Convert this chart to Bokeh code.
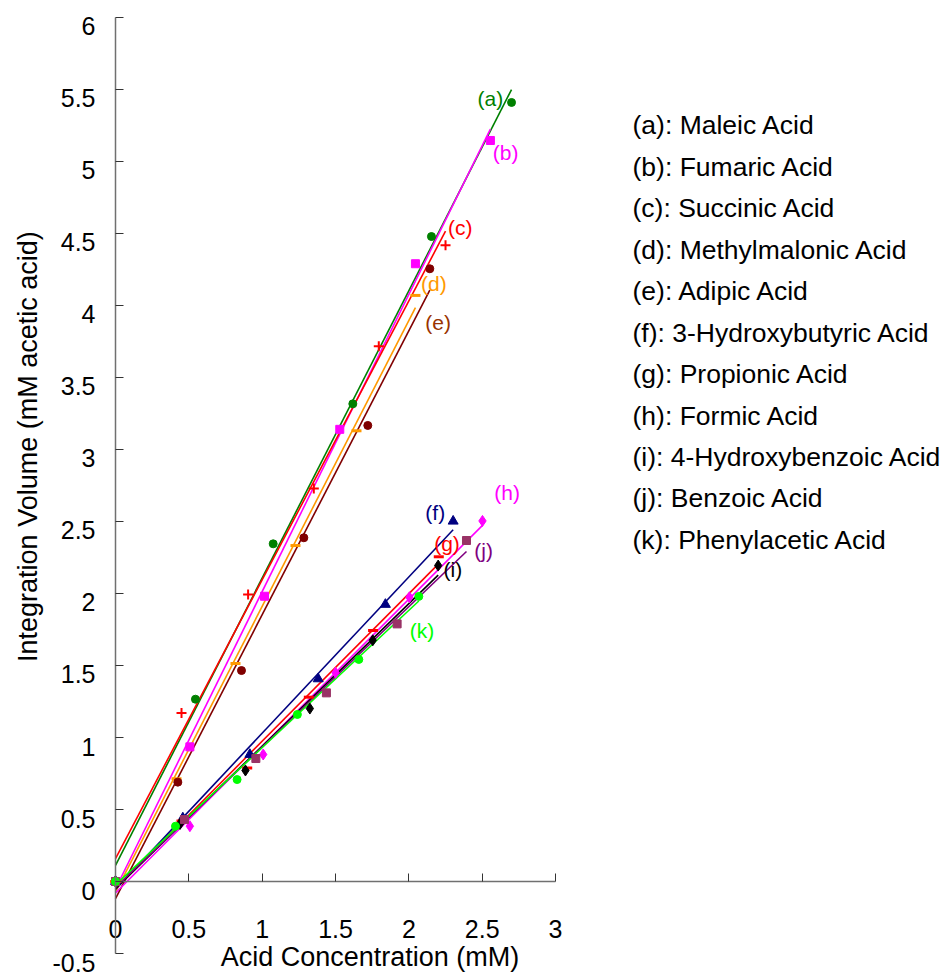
import numpy as np
from bokeh.plotting import figure
from bokeh.models import Label, FixedTicker
from bokeh.embed import file_html
from bokeh.resources import INLINE

# ---------------- data ----------------
tags = ["(a)", "(b)", "(c)", "(d)", "(e)", "(f)", "(g)", "(h)", "(i)", "(j)", "(k)"]
names = ["Maleic Acid", "Fumaric Acid", "Succinic Acid", "Methylmalonic Acid",
         "Adipic Acid", "3-Hydroxybutyric Acid", "Propionic Acid", "Formic Acid",
         "4-Hydroxybenzoic Acid", "Benzoic Acid", "Phenylacetic Acid"]

a_x = [0, 0.545, 1.075, 1.618, 2.154, 2.700]
a_y = [0, 1.266, 2.345, 3.317, 4.479, 5.410]
b_x = [0, 0.507, 1.016, 1.529, 2.045, 2.556]
b_y = [0, 0.935, 1.981, 3.140, 4.290, 5.146]
c_x = [0, 0.450, 0.904, 1.352, 1.795, 2.250]
c_y = [0, 1.171, 1.993, 2.729, 3.717, 4.418]
d_x = [0, 0.416, 0.818, 1.227, 1.643, 2.045]
d_y = [0, 0.713, 1.514, 2.333, 3.130, 4.070]
e_x = [0, 0.425, 0.859, 1.284, 1.720, 2.143]
e_y = [0, 0.690, 1.465, 2.387, 3.167, 4.255]
f_x = [0, 0.459, 0.916, 1.382, 1.840, 2.302]
f_y = [0, 0.441, 0.882, 1.407, 1.924, 2.502]
g_x = [0, 0.450, 0.898, 1.318, 1.756, 2.204]
g_y = [0, 0.420, 0.789, 1.280, 1.743, 2.255]
h_x = [0, 0.507, 1.007, 1.500, 2.004, 2.502]
h_y = [0, 0.384, 0.882, 1.450, 1.974, 2.504]
i_x = [0, 0.440, 0.886, 1.325, 1.754, 2.200]
i_y = [0, 0.400, 0.771, 1.201, 1.675, 2.194]
j_x = [0, 0.470, 0.957, 1.438, 1.920, 2.393]
j_y = [0, 0.430, 0.854, 1.310, 1.789, 2.368]
k_x = [0, 0.409, 0.829, 1.240, 1.659, 2.068]
k_y = [0, 0.384, 0.708, 1.160, 1.542, 1.980]

x_ticks = [0, 0.5, 1, 1.5, 2, 2.5, 3]
y_ticks = [-0.5, 0, 0.5, 1, 1.5, 2, 2.5, 3, 3.5, 4, 4.5, 5, 5.5, 6]
y_tick_labels = ["-0.5", "0", "0.5", "1", "1.5", "2", "2.5", "3", "3.5", "4",
                 "4.5", "5", "5.5", "6"]
x_title = "Acid Concentration (mM)"
y_title = "Integration Volume (mM acetic acid)"

series_x = [a_x, b_x, c_x, d_x, e_x, f_x, g_x, h_x, i_x, j_x, k_x]
series_y = [a_y, b_y, c_y, d_y, e_y, f_y, g_y, h_y, i_y, j_y, k_y]

# ---------------- styles ----------------
marker_color = ["#008000", "#FF00FF", "#FF0000", "#FF9900", "#800000", "#000080",
                "#FF0000", "#FF00FF", "#000000", "#993366", "#00FF00"]
line_color = ["#008000", "#FF00FF", "#FF0000", "#FF9900", "#800000", "#000080",
              "#FF0000", "#FF00FF", "#000000", "#800080", "#00FF00"]
tag_color = ["#008000", "#FF00FF", "#FF0000", "#FF9900", "#993300", "#000080",
             "#FF0000", "#FF00FF", "#000000", "#800080", "#00FF00"]
markers = ["circle", "square", "cross", "dash", "circle", "triangle",
           "dash", "diamond", "diamond", "square", "circle"]
msize = [8, 8, 10, 10, 8, 10, 10, 11, 11, 8, 8]
mlw = [1, 1, 2, 3, 1, 1, 3, 1, 1, 1, 1]
tag_pos = [(2.556, 5.44), (2.66, 5.06), (2.35, 4.54), (2.17, 4.15), (2.20, 3.88),
           (2.18, 2.56), (2.26, 2.35), (2.67, 2.70), (2.30, 2.17), (2.51, 2.30),
           (2.09, 1.74)]

FONT = "Liberation Sans"

# the frame covers the whole canvas; the axes cross at the origin
p = figure(width=944, height=976, x_range=(-0.7841, 5.652), y_range=(-0.6597, 6.118),
           output_backend="svg", toolbar_location=None, tools="",
           min_border=0)
p.outline_line_color = None
p.grid.visible = False
p.background_fill_color = "white"
p.border_fill_color = "white"

xa = p.xaxis[0]
xa.fixed_location = 0
xa.bounds = (0, 3)
xa.ticker = FixedTicker(ticks=x_ticks)
ya = p.yaxis[0]
ya.fixed_location = 0
ya.bounds = (-0.5, 6)
ya.ticker = FixedTicker(ticks=y_ticks)

for ax in (xa, ya):
    ax.axis_line_color = "#707070"
    ax.axis_line_width = 1.5
    ax.major_tick_line_color = "#333333"
    ax.major_tick_in = 8
    ax.major_tick_out = 0
    ax.minor_tick_line_color = None
    ax.major_label_text_font = FONT
    ax.major_label_text_font_size = "25px"
    ax.major_label_text_color = "black"

xa.major_label_standoff = 38
ya.major_label_text_alpha = 0.0   # drawn below, shifted like the reference

for v, s in zip(y_ticks, y_tick_labels):
    p.add_layout(Label(x=0, y=v, x_offset=-20, y_offset=-9, text=s,
                       text_align="right", text_baseline="middle",
                       text_font=FONT, text_font_size="25px", text_color="black"))

# axis titles
p.add_layout(Label(x=1.735, y=-0.525, text=x_title,
                   text_align="center", text_baseline="middle",
                   text_font=FONT, text_font_size="27px", text_color="black"))
p.add_layout(Label(x=-0.6, y=3.02, text=y_title,
                   angle=np.pi / 2, text_align="center", text_baseline="middle",
                   text_font=FONT, text_font_size="27px", text_color="black"))

# trend lines (least squares fits of each series)
for sx, sy, lc in zip(series_x, series_y, line_color):
    slope, icpt = np.polyfit(sx, sy, 1)
    xs = [0, max(sx)]
    ys = [icpt + slope * v for v in xs]
    p.line(xs, ys, line_color=lc, line_width=1.6)

# markers
for sx, sy, mc, mk, ms, lw in zip(series_x, series_y, marker_color, markers, msize, mlw):
    p.scatter(sx, sy, marker=mk, size=ms, fill_color=mc, line_color=mc, line_width=lw)

# series tags
for t, (tx, ty), tc in zip(tags, tag_pos, tag_color):
    p.add_layout(Label(x=tx, y=ty, text=t, text_align="center", text_baseline="middle",
                       text_font=FONT, text_font_size="21px", text_color=tc))

# legend text
leg_x = 3.525
leg_top = 5.25
leg_step = 0.2878
for n, (t, name) in enumerate(zip(tags, names)):
    p.add_layout(Label(x=leg_x, y=leg_top - n * leg_step, text=f"{t}: {name}",
                       text_align="left", text_baseline="middle",
                       text_font=FONT, text_font_size="26.5px", text_color="black"))

open("out.html", "w").write(file_html(p, INLINE))
